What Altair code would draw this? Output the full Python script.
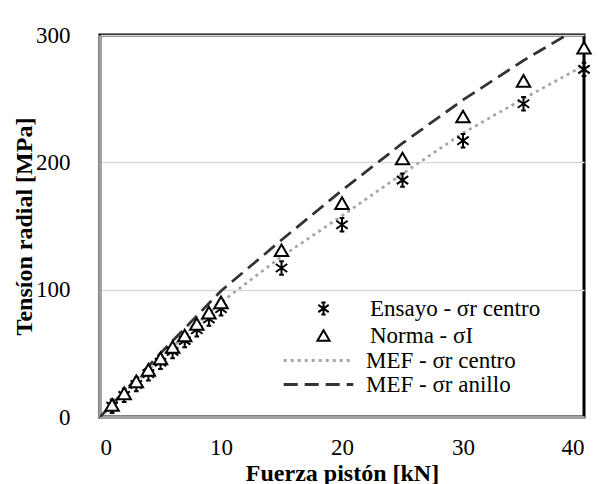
import altair as alt
import pandas as pd

# ---- data ----
fuerza = [1, 2, 3, 4, 5, 6, 7, 8, 9, 10, 15, 20, 25, 30, 35, 40]
ensayo = [8.5, 17, 25.5, 34, 43, 51.5, 60, 68.5, 77, 85, 117, 151, 186, 217, 246, 273]
norma = [9.5, 18.6, 28, 37, 46, 55, 64, 73, 82, 90, 131, 168, 203, 236, 264, 290]

fuerza_mef = [0, 5, 10, 15, 20, 25, 30, 35, 40]
mef_centro = [0, 46, 90, 126, 158, 191, 223, 250, 276]
mef_anillo = [0, 50, 99, 139, 178, 215, 249, 280, 308]

serie_names = ["Ensayo - σr centro", "Norma - σI"]
mef_names = ["MEF - σr centro", "MEF - σr anillo"]

pts = pd.DataFrame(
    {"F": fuerza + fuerza,
     "S": ensayo + norma,
     "serie": [serie_names[0]] * len(fuerza) + [serie_names[1]] * len(fuerza)}
)
mef = pd.DataFrame(
    {"F": fuerza_mef + fuerza_mef,
     "S": mef_centro + mef_anillo,
     "modelo": [mef_names[0]] * len(fuerza_mef) + [mef_names[1]] * len(fuerza_mef)}
)

FONT = "'Liberation Serif', 'Times New Roman', Times, serif"
asterisk = "M0,-1L0,1M-0.85,-0.6L0.85,0.6M-0.85,0.6L0.85,-0.6M-0.35,-1L0.35,-1M-0.35,1L0.35,1"

xenc = alt.X("F:Q", scale=alt.Scale(domain=[0, 40], nice=False),
             axis=alt.Axis(title="Fuerza pistón [kN]", values=[0, 10, 20, 30, 40],
                           grid=False, ticks=False, labelPadding=19, titlePadding=2,
                           labelFont=FONT, titleFont=FONT))
yenc = alt.Y("S:Q", scale=alt.Scale(domain=[0, 300], nice=False),
             axis=alt.Axis(title="Tensíon radial  [MPa]", values=[0, 100, 200, 300],
                           grid=True, ticks=False, labelPadding=30,
                           titleX=-76, titleY=191, titleAlign="center", titleBaseline="middle",
                           labelFont=FONT, titleFont=FONT))

line_legend = alt.Legend(orient="none", legendX=207, legendY=314, title=None,
                         symbolType="M-5.8,0H5.8", symbolSize=144,
                         symbolStrokeWidth=3, labelOffset=36, rowPadding=0,
                         padding=0, labelFont=FONT)

lines = alt.Chart(mef).mark_line(clip=True, strokeWidth=2.8, strokeCap="butt").encode(
    x=xenc, y=yenc,
    color=alt.Color("modelo:N", scale=alt.Scale(domain=mef_names, range=["#a6a6a6", "#333333"]),
                    legend=line_legend),
    strokeDash=alt.StrokeDash("modelo:N", scale=alt.Scale(domain=mef_names, range=[[3, 4], [14, 7]]),
                              legend=line_legend),
    order=alt.Order("F:Q"),
)

pt_legend = alt.Legend(orient="none", legendX=212, legendY=262, title=None,
                       symbolSize=150, symbolFillColor="white",
                       symbolStrokeWidth=2, labelOffset=35, rowPadding=3,
                       padding=0, labelFont=FONT)

points = alt.Chart(pts).mark_point(filled=False, fill="white", strokeWidth=2,
                                   size=180, opacity=1).encode(
    x=xenc, y=yenc,
    shape=alt.Shape("serie:N", scale=alt.Scale(domain=serie_names, range=[asterisk, "triangle-up"]),
                    legend=pt_legend),
    stroke=alt.Stroke("serie:N", scale=alt.Scale(domain=serie_names, range=["black", "black"]),
                      legend=pt_legend),
)

chart = alt.layer(lines, points).properties(
    width=484, height=382,
    autosize=alt.AutoSizeParams(type="none"),
    padding={"left": 92, "top": 27, "right": 15, "bottom": 74},
).configure(
    font=FONT
).configure_view(
    stroke="black", strokeWidth=3
).configure_axis(
    labelFont=FONT, titleFont=FONT, labelFontSize=23, titleFontSize=24,
    labelColor="black", titleColor="black", titleFontWeight="bold",
    domainColor="#a0a0a0", domainWidth=3, gridColor="#d9d9d9", gridWidth=1.5,
).configure_legend(
    labelFont=FONT, labelFontSize=23, labelColor="black", labelLimit=400,
)

chart.save("out.html", embed_options={"renderer": "svg", "actions": False})
